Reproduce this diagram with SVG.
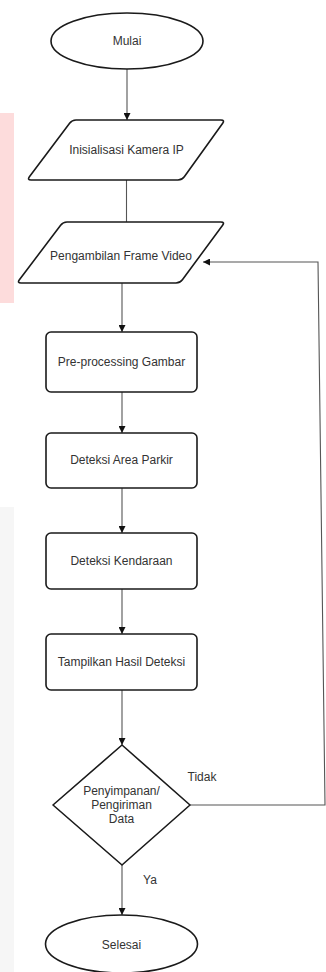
<svg xmlns="http://www.w3.org/2000/svg" width="326" height="972" viewBox="0 0 326 972">
<defs>
<style>
.shape{fill:#ffffff;stroke:#1a1a1a;stroke-width:1.6;}
.conn{fill:none;stroke:#555555;stroke-width:1.1;}
.lbl{font-family:"Liberation Sans",Arial,sans-serif;font-size:12px;fill:#333333;text-anchor:middle;}
</style>
<marker id="arr" viewBox="0 0 10 10" refX="10" refY="5" markerWidth="7" markerHeight="7" orient="auto" markerUnits="userSpaceOnUse">
<path d="M0,0 L10,5 L0,10 Z" fill="#111111"/>
</marker>
</defs>
<rect width="326" height="972" fill="#ffffff"/>
<rect x="0" y="113" width="14" height="190" fill="#fddcdc"/>
<rect x="0" y="507" width="14" height="465" fill="#f6f6f6"/>

<g id="connectors">
<line class="conn" x1="127" y1="69" x2="127" y2="120" marker-end="url(#arr)"/>
<line class="conn" x1="126.5" y1="180" x2="126.5" y2="222"/>
<line class="conn" x1="122" y1="283" x2="122" y2="332" marker-end="url(#arr)"/>
<line class="conn" x1="122" y1="392" x2="122" y2="433" marker-end="url(#arr)"/>
<line class="conn" x1="122" y1="488" x2="122" y2="533" marker-end="url(#arr)"/>
<line class="conn" x1="122" y1="589" x2="122" y2="634" marker-end="url(#arr)"/>
<line class="conn" x1="122" y1="690" x2="122" y2="745" marker-end="url(#arr)"/>
<line class="conn" x1="122" y1="865" x2="122" y2="915" marker-end="url(#arr)"/>
<polyline class="conn" points="190,805 325,805 318,262 203,262" marker-end="url(#arr)"/>
<text class="lbl" x="150" y="884">Ya</text>
<text class="lbl" x="202" y="781">Tidak</text>
</g>

<g id="mulai">
<ellipse class="shape" cx="127" cy="41" rx="76" ry="28"/>
<text class="lbl" x="127" y="45">Mulai</text>
</g>

<g id="inisialisasi">
<path class="shape" d="M76,120 L221,120 Q225,120 222.7,123.3 L184.3,176.8 Q182,180 178,180 L31,180 Q27,180 29.4,176.8 L69.6,123.2 Q72,120 76,120 Z"/>
<text class="lbl" x="126.5" y="154">Inisialisasi Kamera IP</text>
</g>

<g id="pengambilan">
<path class="shape" d="M67,222 L221,222 Q225,222 222.6,225.2 L182.4,279.8 Q180,283 176,283 L21,283 Q17,283 19.4,279.8 L60.6,225.2 Q63,222 67,222 Z"/>
<text class="lbl" x="121" y="260">Pengambilan Frame Video</text>
</g>

<g id="preprocessing">
<rect class="shape" x="46" y="332" width="151" height="60" rx="5"/>
<text class="lbl" x="121.5" y="366">Pre-processing Gambar</text>
</g>

<g id="deteksi-area">
<rect class="shape" x="46" y="433" width="151" height="55" rx="5"/>
<text class="lbl" x="121.5" y="464">Deteksi Area Parkir</text>
</g>

<g id="deteksi-kendaraan">
<rect class="shape" x="46" y="533" width="151" height="56" rx="5"/>
<text class="lbl" x="121.5" y="565">Deteksi Kendaraan</text>
</g>

<g id="tampilkan">
<rect class="shape" x="46" y="634" width="151" height="56" rx="5"/>
<text class="lbl" x="121.5" y="666">Tampilkan Hasil Deteksi</text>
</g>

<g id="keputusan">
<polygon class="shape" points="122,745 190,805 122,865 53,805" stroke-linejoin="round"/>
<text class="lbl" x="121.5" y="795">Penyimpanan/</text>
<text class="lbl" x="121.5" y="809">Pengiriman</text>
<text class="lbl" x="121.5" y="823">Data</text>
</g>

<g id="selesai">
<ellipse class="shape" cx="121.5" cy="944" rx="76" ry="29"/>
<text class="lbl" x="121.5" y="949">Selesai</text>
</g>
</svg>
